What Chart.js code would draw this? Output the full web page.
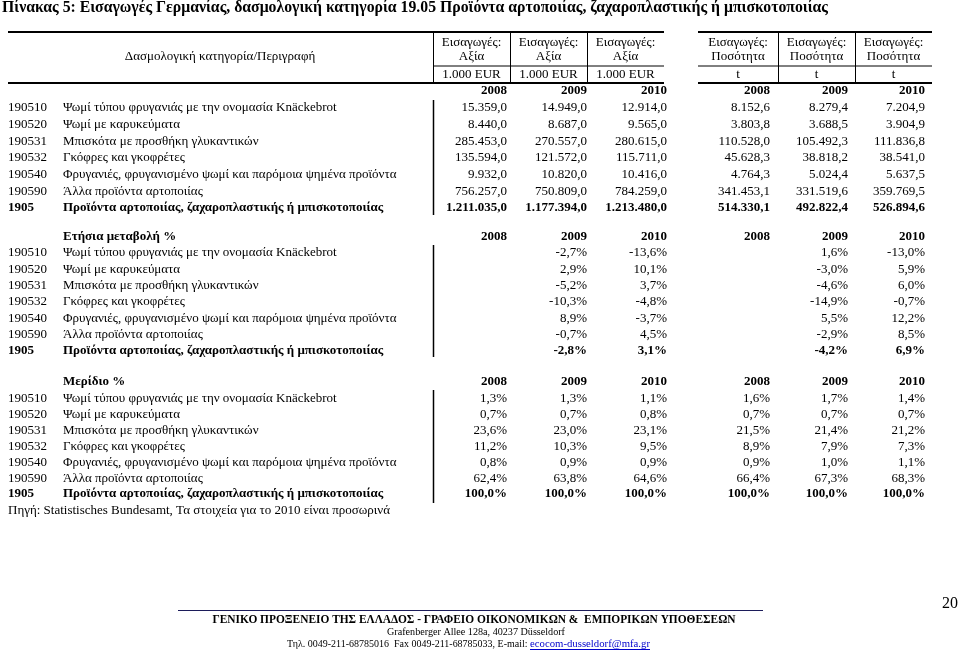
<!DOCTYPE html>
<html>
<head>
<meta charset="utf-8">
<script src="https://cdn.jsdelivr.net/npm/chart.js@4"></script>
<style>
  html, body { margin: 0; padding: 0; background: #fff; }
  canvas { display: block; }
</style>
</head>
<body>
<canvas id="imports-table" width="960" height="651"></canvas>
<script>
const codes = ["190510", "190520", "190531", "190532", "190540", "190590", "1905"];
const descriptions = [
  "Ψωμί τύπου φρυγανιάς με την ονομασία Knäckebrot",
  "Ψωμί με καρυκεύματα",
  "Μπισκότα με προσθήκη γλυκαντικών",
  "Γκόφρες και γκοφρέτες",
  "Φρυγανιές, φρυγανισμένο ψωμί και παρόμοια ψημένα προϊόντα",
  "Άλλα προϊόντα αρτοποιίας",
  "Προϊόντα αρτοποιίας, ζαχαροπλαστικής ή μπισκοτοποιίας",
];
const years = ["2008", "2009", "2010"];

const value2008 = [15359.0, 8440.0, 285453.0, 135594.0, 9932.0, 756257.0, 1211035.0];
const value2009 = [14949.0, 8687.0, 270557.0, 121572.0, 10820.0, 750809.0, 1177394.0];
const value2010 = [12914.0, 9565.0, 280615.0, 115711.0, 10416.0, 784259.0, 1213480.0];
const qty2008 = [8152.6, 3803.8, 110528.0, 45628.3, 4764.3, 341453.1, 514330.1];
const qty2009 = [8279.4, 3688.5, 105492.3, 38818.2, 5024.4, 331519.6, 492822.4];
const qty2010 = [7204.9, 3904.9, 111836.8, 38541.0, 5637.5, 359769.5, 526894.6];

const changeValue2009 = [-2.7, 2.9, -5.2, -10.3, 8.9, -0.7, -2.8];
const changeValue2010 = [-13.6, 10.1, 3.7, -4.8, -3.7, 4.5, 3.1];
const changeQty2009 = [1.6, -3.0, -4.6, -14.9, 5.5, -2.9, -4.2];
const changeQty2010 = [-13.0, 5.9, 6.0, -0.7, 12.2, 8.5, 6.9];

const shareValue2008 = [1.3, 0.7, 23.6, 11.2, 0.8, 62.4, 100.0];
const shareValue2009 = [1.3, 0.7, 23.0, 10.3, 0.9, 63.8, 100.0];
const shareValue2010 = [1.1, 0.8, 23.1, 9.5, 0.9, 64.6, 100.0];
const shareQty2008 = [1.6, 0.7, 21.5, 8.9, 0.9, 66.4, 100.0];
const shareQty2009 = [1.7, 0.7, 21.4, 7.9, 1.0, 67.3, 100.0];
const shareQty2010 = [1.4, 0.7, 21.2, 7.3, 1.1, 68.3, 100.0];

const headerTop = "Εισαγωγές:";
const headerKinds = ["Αξία", "Αξία", "Αξία", "Ποσότητα", "Ποσότητα", "Ποσότητα"];
const headerUnits = ["1.000 EUR", "1.000 EUR", "1.000 EUR", "t", "t", "t"];

// page layout (page pixels, mapped through the chart's x/y scales)
const SERIF = '"Liberation Serif", "Times New Roman", serif';
const colEdges = [[433, 510], [510, 587], [587, 664], [698, 778], [778, 855], [855, 932]];
const colRight = [507, 587, 667, 770, 848, 925];

const sections = [
  { label: null, headY: 91, rowY: 108, step: 16.67, bar: [100, 215],
    cols: [value2008, value2009, value2010, qty2008, qty2009, qty2010], pct: false },
  { label: "Ετήσια μεταβολή %", headY: 237, rowY: 253, step: 16.3, bar: [245, 357],
    cols: [null, changeValue2009, changeValue2010, null, changeQty2009, changeQty2010], pct: true },
  { label: "Μερίδιο %", headY: 382, rowY: 399, step: 15.85, bar: [390, 503],
    cols: [shareValue2008, shareValue2009, shareValue2010, shareQty2008, shareQty2009, shareQty2010], pct: true },
];

function fmt(v) {
  const parts = Math.abs(v).toFixed(1).split(".");
  const int = parts[0].replace(/\B(?=(\d{3})+(?!\d))/g, ".");
  return (v < 0 ? "-" : "") + int + "," + parts[1];
}

const tablePlugin = {
  id: "tableText",
  beforeDraw(chart) {
    const ctx = chart.ctx;
    ctx.save();
    ctx.fillStyle = "#fff";
    ctx.fillRect(0, 0, chart.width, chart.height);
    ctx.restore();
  },
  afterDraw(chart) {
    const ctx = chart.ctx;
    const X = (v) => chart.scales.x.getPixelForValue(v);
    const Y = (v) => chart.scales.y.getPixelForValue(v);

    const text = (str, x, y, size, opts = {}) => {
      ctx.font = (opts.bold ? "bold " : "") + size + "px " + SERIF;
      ctx.fillStyle = opts.color || "#000";
      ctx.textAlign = opts.align || "left";
      ctx.textBaseline = "middle";
      if (opts.maxWidth) ctx.fillText(str, X(x), Y(y), opts.maxWidth);
      else ctx.fillText(str, X(x), Y(y));
    };
    const line = (x1, y1, x2, y2, w, color) => {
      ctx.beginPath();
      ctx.lineWidth = w;
      ctx.strokeStyle = color || "#000";
      ctx.moveTo(X(x1), Y(y1));
      ctx.lineTo(X(x2), Y(y2));
      ctx.stroke();
    };

    ctx.save();

    // title
    text("Πίνακας 5: Εισαγωγές Γερμανίας, δασμολογική κατηγορία 19.05 Προϊόντα αρτοποιίας, ζαχαροπλαστικής ή μπισκοτοποιίας",
      2, 8, 16, { bold: true, maxWidth: 826 });

    // header box
    line(8, 32, 664, 32, 2);
    line(698, 32, 932, 32, 2);
    line(8, 83, 664, 83, 2);
    line(698, 83, 932, 83, 2);
    line(433, 66, 664, 66, 1);
    line(698, 66, 932, 66, 1);
    [433, 510, 587, 778, 855].forEach((x) => line(x + 0.5, 32, x + 0.5, 83, 1));
    text("Δασμολογική κατηγορία/Περιγραφή", 220, 57, 13, { align: "center" });
    colEdges.forEach((e, i) => {
      const cx = (e[0] + e[1]) / 2;
      text(headerTop, cx, 43, 13, { align: "center" });
      text(headerKinds[i], cx, 57, 13, { align: "center" });
      text(headerUnits[i], cx, 75, 13, { align: "center" });
    });

    // sections
    sections.forEach((s) => {
      if (s.label) text(s.label, 63, s.headY, 13, { bold: true });
      colRight.forEach((x, c) => text(years[c % 3], x, s.headY, 13, { bold: true, align: "right" }));
      line(433.5, s.bar[0], 433.5, s.bar[1], 1.5);
      codes.forEach((code, r) => {
        const y = s.rowY + r * s.step;
        const bold = r === codes.length - 1;
        text(code, 8, y, 13, { bold });
        text(descriptions[r], 63, y, 13, { bold });
        s.cols.forEach((col, c) => {
          if (!col) return;
          const str = fmt(col[r]) + (s.pct ? "%" : "");
          text(str, colRight[c], y, 13, { bold, align: "right" });
        });
      });
    });

    text("Πηγή: Statistisches Bundesamt, Τα στοιχεία για το 2010 είναι προσωρινά", 8, 511, 13);

    // footer
    text("20", 958, 604, 16, { align: "right" });
    line(178, 610.5, 763, 610.5, 1, "#1c1c5a");
    text("ΓΕΝΙΚΟ ΠΡΟΞΕΝΕΙΟ ΤΗΣ ΕΛΛΑΔΟΣ - ΓΡΑΦΕΙΟ ΟΙΚΟΝΟΜΙΚΩΝ &  ΕΜΠΟΡΙΚΩΝ ΥΠΟΘΕΣΕΩΝ",
      474, 620, 12, { bold: true, align: "center", maxWidth: 523 });
    text("Grafenberger Allee 128a, 40237 Düsseldorf", 476, 632, 11, { align: "center", maxWidth: 178 });
    const phone = "Τηλ. 0049-211-68785016  Fax 0049-211-68785033, E-mail: ";
    const mail = "ecocom-dusseldorf@mfa.gr";
    text(phone, 287, 644, 11, { maxWidth: 243 });
    text(mail, 530, 644, 11, { color: "#00c", maxWidth: 120 });
    line(530, 649.5, 650, 649.5, 1, "#00c");

    ctx.restore();
  },
};

new Chart(document.getElementById("imports-table"), {
  type: "scatter",
  data: { datasets: [{ data: [] }] },
  options: {
    responsive: false,
    maintainAspectRatio: false,
    animation: false,
    layout: { padding: 0 },
    scales: {
      x: { type: "linear", min: 0, max: 960, display: false },
      y: { type: "linear", min: 0, max: 651, reverse: true, display: false },
    },
    plugins: {
      legend: { display: false },
      tooltip: { enabled: false },
    },
  },
  plugins: [tablePlugin],
});
</script>
</body>
</html>
